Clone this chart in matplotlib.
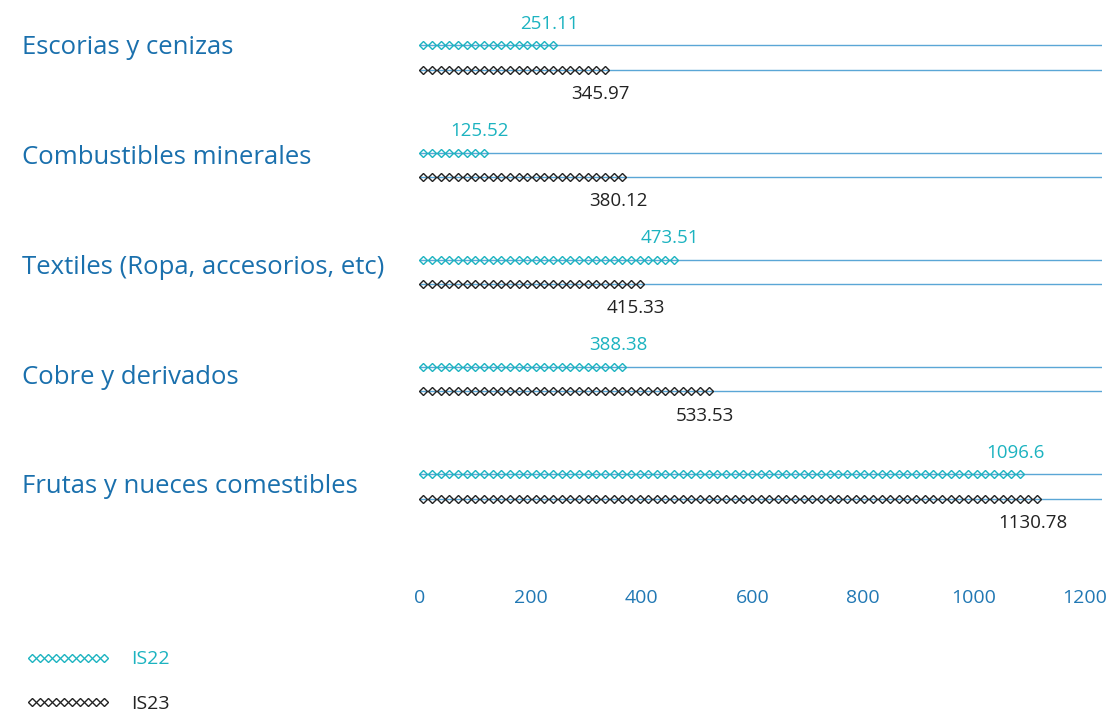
import numpy as np
import matplotlib
matplotlib.use('Agg')
import matplotlib.pyplot as plt
from matplotlib.transforms import blended_transform_factory

plt.rcParams['font.family'] = ['Open Sans', 'DejaVu Sans']

categories = ['Escorias y cenizas', 'Combustibles minerales', 'Textiles (Ropa, accesorios, etc)',
              'Cobre y derivados', 'Frutas y nueces comestibles']
is22 = [251.11, 125.52, 473.51, 388.38, 1096.6]
is23 = [345.97, 380.12, 415.33, 533.53, 1130.78]
xticks = [0, 200, 400, 600, 800, 1000, 1200]

teal = '#1cb3c0'
dark = '#222222'
blue = '#1a70ad'
line_c = '#5aa6d6'
step = 15.6  # value covered by each diamond
gap = 0.114

fig = plt.figure(figsize=(11.16, 7.22), dpi=100)
ax = fig.add_axes([420 / 1116, 1 - 570 / 722, 682 / 1116, 550 / 722])
ax.set_xlim(0, 1231)
ax.set_ylim(4.78, -0.35)

for i, (a, b) in enumerate(zip(is22, is23)):
    for val, off, col, dy, va in [(a, -gap, teal, 9, 'bottom'), (b, gap, dark, -11, 'top')]:
        y = i + off
        ax.axhline(y, color=line_c, lw=1, zorder=1)
        xs = np.arange(step * 0.4, val - step / 2, step)
        ax.plot(xs, [y] * len(xs), ls='none', marker='D', ms=4.0, mfc='none',
                mec=col, mew=1.0, zorder=2, clip_on=False)
        ax.annotate(str(val), (xs[-1], y), xytext=(-3, dy), textcoords='offset points',
                    ha='center', va=va, color=col, fontsize=13.5)

# category labels sit on a slightly wider pitch than the bar pairs
trans = blended_transform_factory(fig.transFigure, ax.transData)
for i, cat in enumerate(categories):
    ax.text(22 / 1116, -0.089 + i * 1.0235, cat, transform=trans, ha='left', va='center',
            fontsize=18.5, color=blue)

ax.set_yticks([])
ax.set_xticks(xticks)
ax.tick_params(axis='x', length=0, labelsize=14, labelcolor='#2178b4', pad=14)
for s in ax.spines.values():
    s.set_visible(False)

h1, = ax.plot([], [], ls='none', marker='D', ms=3.6, mfc='none', mec=teal, mew=1.0)
h2, = ax.plot([], [], ls='none', marker='D', ms=3.6, mfc='none', mec=dark, mew=1.0)
fig.legend([h1, h2], ['IS22', 'IS23'], loc='upper left', bbox_to_anchor=(9 / 1116, 1 - 633 / 722),
           frameon=False, numpoints=10, handlelength=4.3, handletextpad=1.1, labelspacing=1.35,
           fontsize=14, labelcolor=[teal, dark])

fig.savefig('out.png', dpi=100)
